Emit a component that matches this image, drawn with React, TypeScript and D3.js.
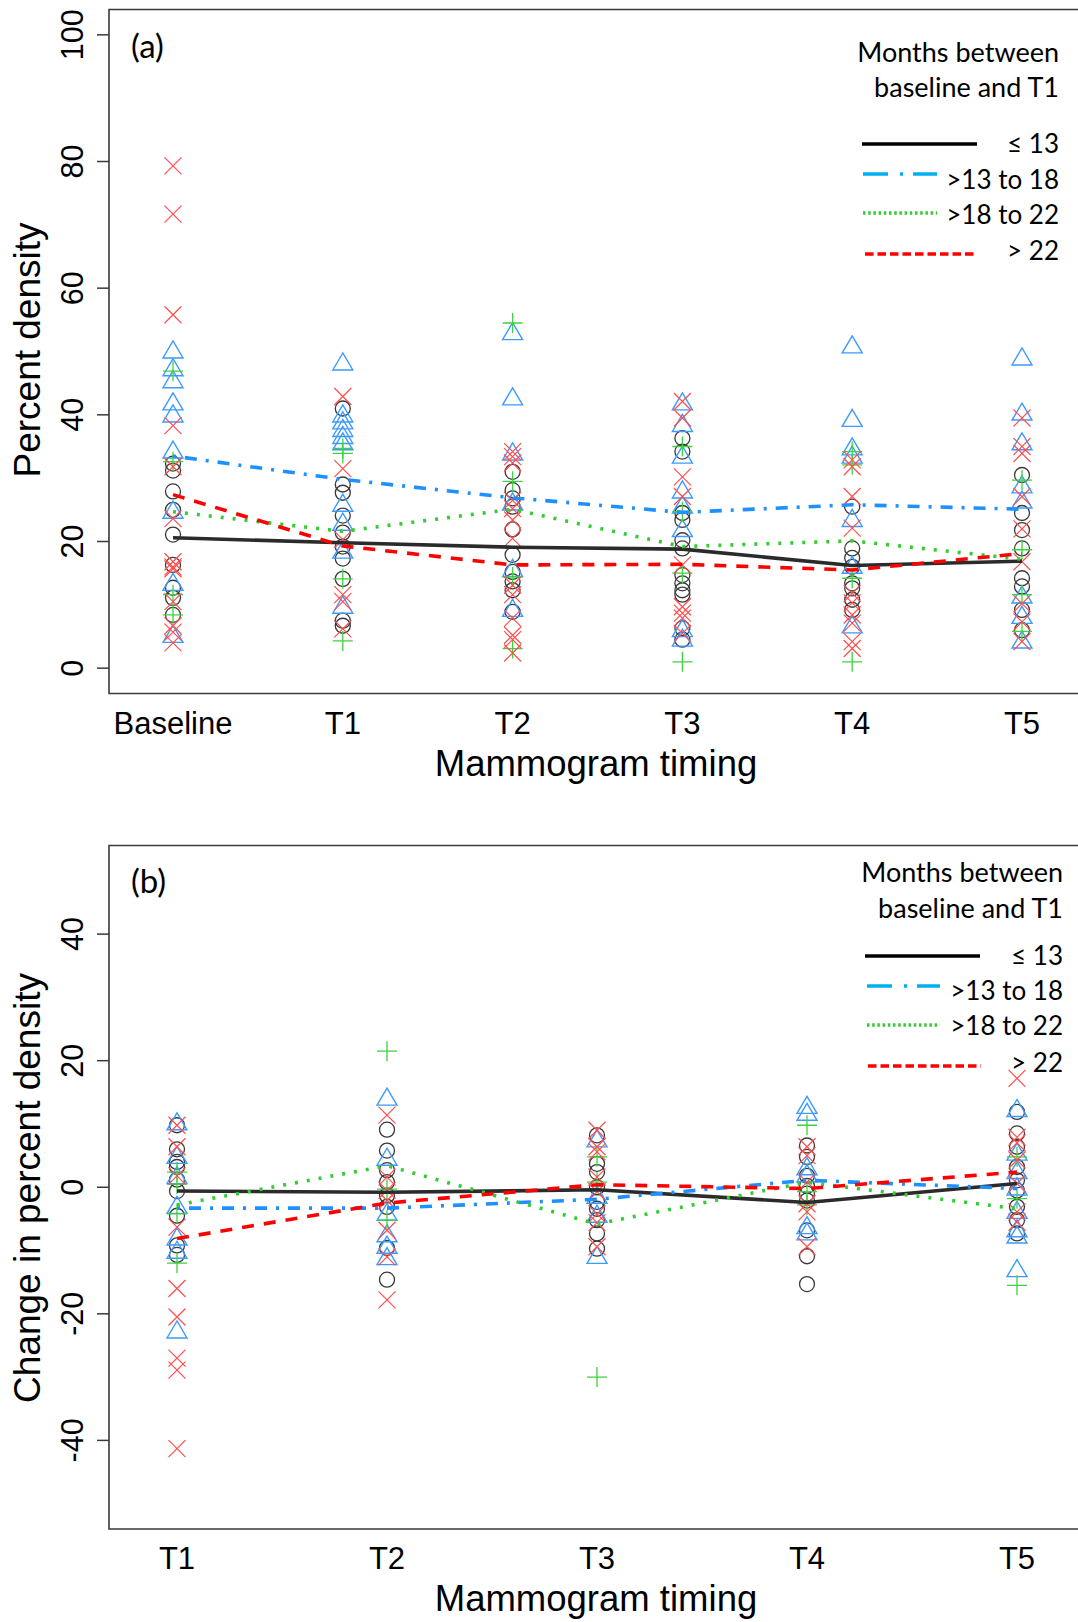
import React from "react";
import * as d3 from "d3";

// ---------- DATA ----------
const timesA = ["Baseline", "T1", "T2", "T3", "T4", "T5"];
const timesB = ["T1", "T2", "T3", "T4", "T5"];
const groupLabels = ["≤ 13", ">13 to 18", ">18 to 22", "> 22"];
const ticksA = [0, 20, 40, 60, 80, 100];
const ticksB = [-40, -20, 0, 20, 40];

// Panel (a): percent density, one list per time point
const circA: number[][] = [
  [32.3, 31.2, 27.9, 25.0, 21.1, 16.3, 12.7, 11.1, 8.4],
  [41.0, 29.0, 27.7, 24.1, 21.4, 19.2, 17.3, 14.1, 7.5, 6.7],
  [31.0, 28.1, 26.8, 25.5, 21.9, 17.9, 15.2, 13.7, 12.3, 8.9],
  [36.3, 34.2, 24.5, 23.4, 20.2, 18.9, 14.7, 13.4, 12.3, 11.6, 6.3, 4.5],
  [25.5, 18.9, 17.4, 16.0, 13.4, 12.6, 10.8, 9.2],
  [30.5, 24.5, 21.8, 18.9, 14.2, 12.9, 9.2, 6.0],
];
const triA: number[][] = [
  [50.0, 47.2, 45.3, 41.8, 39.9, 34.2, 24.7, 13.3, 5.1],
  [48.1, 39.9, 38.8, 37.6, 36.5, 35.5, 25.8, 22.8, 18.4, 9.7],
  [52.9, 42.6, 33.9, 26.0, 15.5, 9.2],
  [41.8, 38.4, 33.4, 27.9, 25.5, 21.8, 6.0, 4.5],
  [50.8, 39.2, 34.7, 33.4, 23.4, 16.0, 6.6],
  [48.9, 40.2, 35.5, 28.7, 26.3, 11.3, 8.1, 4.2],
];
const plusA: number[][] = [
  [46.9, 32.6, 11.6, 8.4],
  [34.7, 33.9, 14.1, 4.3],
  [54.5, 29.5, 14.4, 3.1],
  [35.0, 24.7, 15.0, 1.0],
  [34.2, 32.1, 14.2, 1.0],
  [29.7, 18.7, 11.6, 5.8],
];
const crossA: number[][] = [
  [79.3, 71.7, 55.8, 38.3, 31.8, 23.6, 16.8, 16.0, 15.7, 10.5, 6.7, 5.7, 4.0],
  [42.9, 31.5, 20.3, 11.6, 10.5, 6.2],
  [34.2, 33.4, 32.4, 26.5, 25.2, 23.4, 20.5, 13.1, 11.6, 7.9, 5.2, 4.5, 2.4],
  [42.1, 39.5, 30.2, 27.1, 16.3, 9.7, 8.7, 7.9, 5.5],
  [32.9, 31.8, 27.1, 22.1, 11.8, 10.3, 8.4, 7.1, 4.2, 3.1],
  [39.5, 35.0, 33.9, 27.1, 22.0, 16.8, 10.2, 7.3, 4.2],
];
const meanA_le13 = [20.6, 19.8, 19.1, 18.8, 16.2, 16.9];
const meanA_13to18 = [33.5, 29.8, 26.9, 24.6, 25.8, 25.1];
const meanA_18to22 = [24.7, 21.6, 25.1, 19.2, 20.1, 17.2];
const meanA_gt22 = [27.4, 19.3, 16.3, 16.4, 15.5, 18.1];

// Panel (b): change in percent density
const circB: number[][] = [
  [9.8, 6.0, 4.0, 3.2, 1.2, -0.6, -4.5, -9.2, -10.7],
  [9.1, 5.8, 2.7, 0.8, -1.3, -3.1, -9.6, -14.6],
  [8.2, 3.7, 2.4, 0.0, -2.3, -3.4, -5.2, -7.3, -9.7],
  [6.6, 4.8, 1.8, 0.2, -1.0, -2.1, -6.8, -10.9, -15.3],
  [11.9, 8.5, 6.4, 3.2, 1.1, -0.5, -3.1, -5.2, -7.3],
];
const triB: number[][] = [
  [10.1, 4.8, 1.6, -3.1, -8.1, -10.2, -22.8],
  [14.0, 4.5, -4.2, -7.6, -9.4, -11.2],
  [7.4, -1.5, -4.5, -11.0],
  [12.7, 11.6, 3.0, 1.9, -6.3, -7.3],
  [12.2, 5.3, 2.4, -0.2, -3.9, -6.8, -7.8, -13.1],
];
const plusB: number[][] = [
  [2.4, 0.5, -4.2, -12.0],
  [21.5, -0.3, -5.2],
  [4.8, 0.8, -30.0],
  [9.8, -0.7, -2.8],
  [4.8, -1.8, -15.5],
];
const crossB: number[][] = [
  [9.8, 6.4, 1.8, -6.3, -16.0, -20.5, -27.0, -28.9, -41.3],
  [11.4, 1.6, -0.5, -2.1, -6.8, -11.0, -17.8],
  [9.0, 6.4, 5.6, 1.6, -0.7, -4.2, -5.6, -9.4],
  [6.4, 5.0, 0.8, -2.6, -3.9, -9.4],
  [17.2, 7.9, 7.0, 4.3, 0.6, -3.9, -5.5],
];
const meanB_le13 = [-0.6, -0.8, -0.4, -2.4, 0.6];
const meanB_13to18 = [-3.3, -3.3, -1.9, 1.1, -0.2];
const meanB_18to22 = [-2.8, 3.4, -5.8, 0.8, -3.4];
const meanB_gt22 = [-8.1, -2.5, 0.4, -0.2, 2.4];

// ---------- STYLE ----------
const AXIS_FONT = "'Liberation Sans', Arial, sans-serif";
const LEG_FONT = "Lato, Carlito, 'Open Sans', sans-serif";
const C_BLACK = "#2b2b2b";
const C_BLUE = "#1E90FF";
const C_GREEN = "#33CC33";
const C_RED = "#FF0000";
const P_CIRCLE = "#3a3a3a";
const P_TRI = "#3d9bff";
const P_PLUS = "#3fd13f";
const P_CROSS = "#ff4d4d";

const lineStyles = [
  { color: C_BLACK, dash: undefined as string | undefined, w: 3.6 },
  { color: C_BLUE, dash: "3 9 12 9", w: 3.6 },
  { color: C_GREEN, dash: "3 9", w: 3.6 },
  { color: C_RED, dash: "12 10", w: 3.6 },
];
const legendDash = [undefined, "25 12 3 10 25 40", "2.5 2.7", "8.5 4"];

type Shape = "circle" | "tri" | "plus" | "cross";

function Marker({ shape, cx, cy }: { shape: Shape; cx: number; cy: number }) {
  if (shape === "circle")
    return <circle cx={cx} cy={cy} r={7.5} fill="none" stroke={P_CIRCLE} strokeWidth={1.3} />;
  if (shape === "tri") {
    const h = 17, w = 20;
    const pts = `${cx},${cy - h * 0.62} ${cx - w / 2},${cy + h * 0.38} ${cx + w / 2},${cy + h * 0.38}`;
    return <polygon points={pts} fill="none" stroke={P_TRI} strokeWidth={1.4} />;
  }
  if (shape === "plus") {
    const s = 10;
    return (
      <path d={`M${cx - s},${cy}H${cx + s}M${cx},${cy - s}V${cy + s}`} stroke={P_PLUS} strokeWidth={1.3} fill="none" />
    );
  }
  const s = 8.5;
  return (
    <path
      d={`M${cx - s},${cy - s}L${cx + s},${cy + s}M${cx - s},${cy + s}L${cx + s},${cy - s}`}
      stroke={P_CROSS}
      strokeWidth={1.2}
      fill="none"
    />
  );
}

interface LegendCfg {
  right: number;
  titleY: [number, number];
  lineY: number[];
  textY: number[];
  lineX: [number, number][];
}

interface PanelProps {
  tag: string;
  tagY: number;
  times: string[];
  top: number;
  bottom: number;
  left: number;
  xRange: [number, number];
  yDomain: [number, number];
  ticks: number[];
  ylabel: string;
  ylabelY: number;
  pts: Record<Shape, number[][]>;
  means: number[][];
  legend: LegendCfg;
}

function Panel(p: PanelProps) {
  const x = d3.scaleLinear().domain([0, p.times.length - 1]).range(p.xRange);
  const y = d3.scaleLinear().domain(p.yDomain).range([p.bottom, p.top]);
  const line = d3
    .line<number>()
    .x((_, i) => x(i))
    .y((d) => y(d));
  const shapes: Shape[] = ["circle", "tri", "plus", "cross"];
  const titleX = 596;
  return (
    <g>
      {shapes.map((s) =>
        p.pts[s].map((col, i) =>
          col.map((v, j) => <Marker key={`${s}-${i}-${j}`} shape={s} cx={x(i)} cy={y(v)} />)
        )
      )}
      {p.means.map((m, k) => (
        <path
          key={k}
          d={line(m) || ""}
          fill="none"
          stroke={lineStyles[k].color}
          strokeWidth={lineStyles[k].w}
          strokeDasharray={lineStyles[k].dash}
        />
      ))}
      <path
        d={`M${1090},${p.top}H${p.left}V${p.bottom}H${1090}`}
        fill="none"
        stroke="#3a3a3a"
        strokeWidth={1.6}
      />
      {p.ticks.map((t) => (
        <g key={t}>
          <line x1={p.left - 12} x2={p.left} y1={y(t)} y2={y(t)} stroke="#3a3a3a" strokeWidth={1.5} />
          <text
            transform={`translate(83,${y(t)}) rotate(-90)`}
            textAnchor="middle"
            fontFamily={AXIS_FONT}
            fontSize={30.5}
            fill="#000"
          >
            {t}
          </text>
        </g>
      ))}
      {p.times.map((t, i) => (
        <text
          key={t}
          x={x(i)}
          y={p.bottom + 40}
          textAnchor="middle"
          fontFamily={AXIS_FONT}
          fontSize={31}
          fill="#000"
        >
          {t}
        </text>
      ))}
      <text x={titleX} y={p.bottom + 82} textAnchor="middle" fontFamily={AXIS_FONT} fontSize={36.5} fill="#000">
        Mammogram timing
      </text>
      <text
        transform={`translate(40,${p.ylabelY}) rotate(-90)`}
        textAnchor="middle"
        fontFamily={AXIS_FONT}
        fontSize={37}
        fill="#000"
      >
        {p.ylabel}
      </text>
      <text x={131} y={p.tagY} fontFamily={LEG_FONT} fontSize={33} fill="#000">
        {p.tag}
      </text>
      <g fontFamily={LEG_FONT} fill="#000">
        <text x={p.legend.right} y={p.legend.titleY[0]} textAnchor="end" fontSize={27}>
          Months between
        </text>
        <text x={p.legend.right} y={p.legend.titleY[1]} textAnchor="end" fontSize={27}>
          baseline and T1
        </text>
        {groupLabels.map((g, k) => (
          <g key={g}>
            <line
              x1={p.legend.lineX[k][0]}
              x2={p.legend.lineX[k][1]}
              y1={p.legend.lineY[k]}
              y2={p.legend.lineY[k]}
              stroke={k === 1 ? "#00B0F0" : k === 0 ? "#000" : lineStyles[k].color}
              strokeWidth={3.3}
              strokeDasharray={legendDash[k]}
            />
            <text x={p.legend.right} y={p.legend.textY[k]} textAnchor="end" fontSize={26}>
              {g}
            </text>
          </g>
        ))}
      </g>
    </g>
  );
}

export default function App() {
  return (
    <svg
      width={1078}
      height={1622}
      style={{ position: "absolute", left: 0, top: 0, background: "#fff" }}
    >
      <rect x={0} y={0} width={1078} height={1622} fill="#fff" />
      <Panel
        tag="(a)"
        tagY={58}
        times={timesA}
        top={9.5}
        bottom={693.5}
        left={109}
        xRange={[173, 1022]}
        yDomain={[-4, 104]}
        ticks={ticksA}
        ylabel="Percent density"
        ylabelY={350}
        pts={{ circle: circA, tri: triA, plus: plusA, cross: crossA }}
        means={[meanA_le13, meanA_13to18, meanA_18to22, meanA_gt22]}
        legend={{
          right: 1059,
          titleY: [62, 97],
          lineY: [144, 174, 213, 254],
          textY: [153, 189, 224, 260],
          lineX: [
            [862, 977],
            [863, 937],
            [863, 937],
            [865, 977],
          ],
        }}
      />
      <Panel
        tag="(b)"
        tagY={893}
        times={timesB}
        top={845.5}
        bottom={1529}
        left={109}
        xRange={[177, 1017]}
        yDomain={[-54, 54]}
        ticks={ticksB}
        ylabel="Change in percent density"
        ylabelY={1188}
        pts={{ circle: circB, tri: triB, plus: plusB, cross: crossB }}
        means={[meanB_le13, meanB_13to18, meanB_18to22, meanB_gt22]}
        legend={{
          right: 1063,
          titleY: [882, 918],
          lineY: [956, 986, 1025, 1066],
          textY: [965, 1000, 1035, 1072],
          lineX: [
            [865, 980],
            [867, 940],
            [867, 940],
            [868, 981],
          ],
        }}
      />
    </svg>
  );
}
